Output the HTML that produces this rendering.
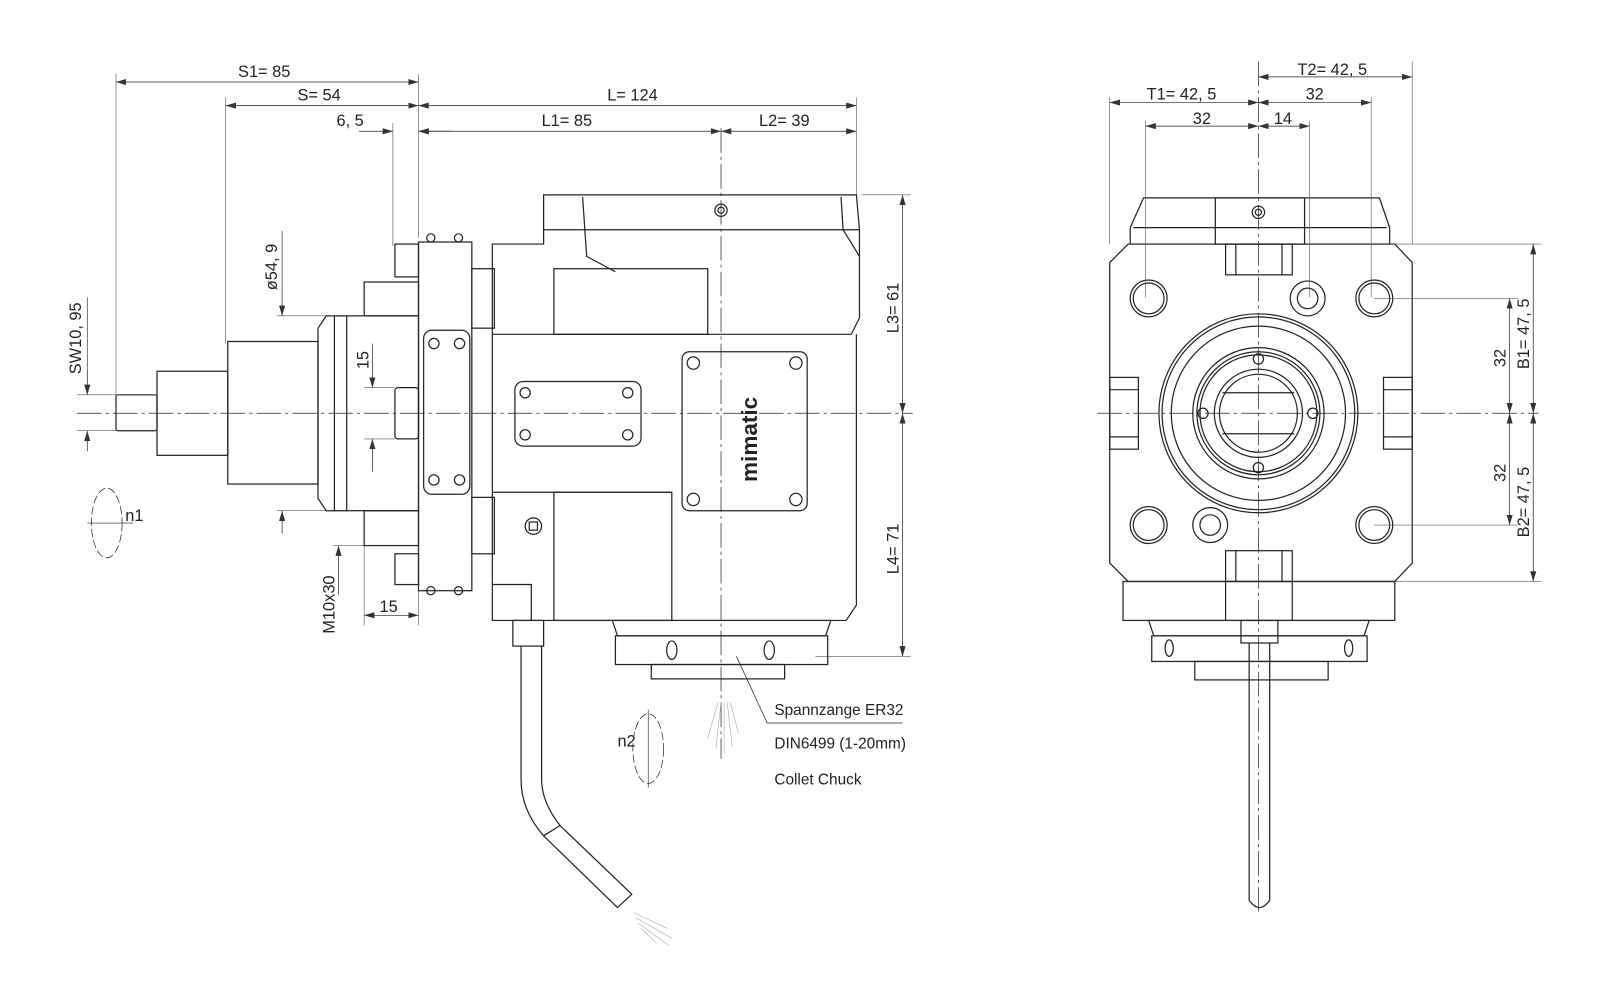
<!DOCTYPE html>
<html><head><meta charset="utf-8"><style>
html,body{margin:0;padding:0;background:#fff}
svg{display:block}
text{font-family:"Liberation Sans",sans-serif;font-size:16px;fill:#222}
</style></head><body>
<svg width="1600" height="1005" viewBox="0 0 1560 980" xmlns="http://www.w3.org/2000/svg">
<defs>
<marker id="a" viewBox="0 0 10 6" refX="10" refY="3" markerWidth="10" markerHeight="6" orient="auto-start-reverse" markerUnits="userSpaceOnUse"><path d="M0,0L10,3L0,6z" fill="#333"/></marker>
</defs>
<g stroke="#222" fill="none" stroke-width="0.8">
<!-- center lines -->
<g stroke-dasharray="24 4 3 4" stroke-width="0.7">
<line x1="75" y1="403" x2="890" y2="403"/>
<line x1="703" y1="125" x2="703" y2="740"/>
<line x1="1070" y1="403" x2="1500" y2="403"/>
<line x1="1227" y1="60" x2="1227" y2="890"/>
</g>
<!-- LEFT extension lines -->
<g stroke-width="0.6" stroke="#555">
<line x1="113" y1="72" x2="113" y2="385"/>
<line x1="220" y1="95" x2="220" y2="335"/>
<line x1="383" y1="120" x2="383" y2="240"/>
<line x1="408" y1="72" x2="408" y2="232"/>
<line x1="835" y1="95" x2="835" y2="190"/>
<line x1="840" y1="190" x2="888" y2="190"/>
<line x1="795" y1="640" x2="888" y2="640"/>
<line x1="75" y1="385" x2="113" y2="385"/><line x1="75" y1="420" x2="113" y2="420"/>
<line x1="270" y1="308" x2="330" y2="308"/><line x1="270" y1="498" x2="330" y2="498"/>
<line x1="355" y1="378" x2="385" y2="378"/><line x1="355" y1="428" x2="385" y2="428"/>
<line x1="355" y1="525" x2="355" y2="610"/><line x1="408" y1="575" x2="408" y2="610"/>
<line x1="325" y1="532" x2="355" y2="532"/>
</g>
<!-- LEFT dimension lines -->
<g stroke-width="0.7" marker-start="url(#a)" marker-end="url(#a)">
<line x1="113" y1="80" x2="408" y2="80"/>
<line x1="220" y1="103" x2="408" y2="103"/>
<line x1="408" y1="103" x2="835" y2="103"/>
<line x1="408" y1="128" x2="703" y2="128"/>
<line x1="703" y1="128" x2="835" y2="128"/>
<line x1="880" y1="190" x2="880" y2="403"/>
<line x1="880" y1="403" x2="880" y2="640"/>
<line x1="355" y1="600" x2="408" y2="600"/>
</g>
<g stroke-width="0.7" marker-end="url(#a)">
<line x1="350" y1="128" x2="383" y2="128"/>
<line x1="440" y1="128" x2="408" y2="128"/>
<line x1="85" y1="360" x2="85" y2="385"/><line x1="85" y1="440" x2="85" y2="420"/>
<line x1="275" y1="280" x2="275" y2="308"/><line x1="275" y1="520" x2="275" y2="498"/>
<line x1="363" y1="340" x2="363" y2="378"/><line x1="363" y1="460" x2="363" y2="428"/>
<line x1="330" y1="580" x2="330" y2="532"/>
</g>
<line x1="85" y1="290" x2="85" y2="360" stroke-width="0.6"/>
<line x1="275" y1="225" x2="275" y2="280" stroke-width="0.6"/>
<line x1="363" y1="335" x2="363" y2="340" stroke-width="0.6"/>
<!-- LEFT body -->
<g stroke-width="1.2">
<path d="M530,190 H835 L838,224 V310 L830,326 H480 V238 H530 Z"/>
<line x1="530" y1="224" x2="838" y2="224"/>
<path d="M568,192 L572,250 L600,265"/>
<path d="M820,192 L822,224 L838,250"/>
<rect x="540" y="262" width="150" height="64"/>
<path d="M480,326 V605 H825 L835,590 V326"/>
<line x1="480" y1="480" x2="655" y2="480"/>
<rect x="540" y="480" width="115" height="125"/>
<path d="M480,570 H518 V605"/>
<rect x="408" y="236" width="52" height="340"/>
<rect x="413" y="322" width="45" height="160" rx="8"/>
<circle cx="423" cy="335" r="5"/><circle cx="448" cy="335" r="5"/>
<circle cx="423" cy="468" r="5"/><circle cx="448" cy="468" r="5"/>
<circle cx="420" cy="232" r="4"/><circle cx="447" cy="232" r="4"/>
<circle cx="420" cy="576" r="4"/><circle cx="447" cy="576" r="4"/>
<rect x="460" y="262" width="22" height="58"/>
<rect x="460" y="485" width="22" height="55"/>
<rect x="385" y="238" width="23" height="32"/>
<rect x="385" y="540" width="23" height="30"/>
<rect x="355" y="275" width="53" height="33"/>
<rect x="355" y="498" width="53" height="34"/>
<rect x="338" y="308" width="70" height="190"/>
<path d="M338,308 H318 L310,320 V486 L318,498 H338"/>
<line x1="326" y1="308" x2="326" y2="498"/>
<rect x="222" y="333" width="88" height="139"/>
<rect x="153" y="362" width="69" height="82"/>
<rect x="113" y="385" width="40" height="35" rx="2"/>
<rect x="385" y="378" width="23" height="50" rx="3"/>
<rect x="502" y="372" width="123" height="63" rx="8"/>
<circle cx="512" cy="383" r="5"/><circle cx="612" cy="383" r="5"/>
<circle cx="512" cy="424" r="5"/><circle cx="612" cy="424" r="5"/>
<rect x="665" y="343" width="122" height="155" rx="7"/>
<circle cx="676" cy="354" r="6"/><circle cx="776" cy="354" r="6"/>
<circle cx="676" cy="487" r="6"/><circle cx="776" cy="487" r="6"/>
<circle cx="520" cy="513" r="8"/><rect x="516" y="509" width="8" height="8"/>
<circle cx="703" cy="205" r="6"/><circle cx="703" cy="205" r="3"/>
<rect x="500" y="605" width="30" height="25"/>
<path d="M597,605 H810 L805,620 H602 Z"/>
<rect x="600" y="620" width="207" height="28"/>
<ellipse cx="655" cy="634" rx="5" ry="9"/><ellipse cx="750" cy="634" rx="5" ry="9"/>
<path d="M635,648 H765 V662 H635 Z"/>
<path d="M508,630 V760 Q508,790 530,815 L602,885 L616,872 L546,805 Q528,782 528,760 V630"/>
<line x1="530" y1="815" x2="546" y2="805"/>
</g>
<!-- leader -->
<path d="M718,640 L748,705 H880" stroke-width="0.7"/>
<!-- n1 / n2 -->
<ellipse cx="104" cy="510" rx="15" ry="34" stroke-dasharray="8 3" stroke-width="0.7"/>
<line x1="85" y1="510" x2="130" y2="510" stroke-width="0.6"/>
<ellipse cx="632" cy="730" rx="15" ry="34" stroke-dasharray="8 3" stroke-width="0.7"/>
<line x1="632" y1="692" x2="632" y2="768" stroke-width="0.6"/>
<g stroke-width="0.5" stroke="#999">
<path d="M700,685 L690,720 M703,685 L698,730 M706,685 L706,735 M709,685 L714,728 M712,685 L720,715"/>
<path d="M618,890 L650,905 M620,895 L655,915 M622,900 L652,922 M625,905 L640,920"/>
</g>
<!-- RIGHT view -->
<g stroke-width="1.2">
<path d="M1115,193 H1345 L1355,222 V238 H1102 V222 Z"/>
<line x1="1105" y1="222" x2="1352" y2="222"/>
<rect x="1185" y="193" width="87" height="45"/>
<circle cx="1227" cy="207" r="6"/><circle cx="1227" cy="207" r="3"/>
<path d="M1100,238 H1360 L1377,256 V549 L1360,567 H1100 L1082,549 V256 Z"/>
<rect x="1195" y="238" width="65" height="30"/><line x1="1205" y1="238" x2="1205" y2="268"/><line x1="1250" y1="238" x2="1250" y2="268"/>
<rect x="1195" y="537" width="65" height="30"/><line x1="1205" y1="537" x2="1205" y2="567"/><line x1="1250" y1="537" x2="1250" y2="567"/>
<rect x="1082" y="368" width="28" height="70"/><line x1="1082" y1="380" x2="1110" y2="380"/><line x1="1082" y1="426" x2="1110" y2="426"/>
<rect x="1349" y="368" width="28" height="70"/><line x1="1349" y1="380" x2="1377" y2="380"/><line x1="1349" y1="426" x2="1377" y2="426"/>
<circle cx="1120" cy="291" r="18"/><circle cx="1120" cy="291" r="15"/>
<circle cx="1340" cy="291" r="18"/><circle cx="1340" cy="291" r="15"/>
<circle cx="1120" cy="512" r="18"/><circle cx="1120" cy="512" r="15"/>
<circle cx="1340" cy="512" r="18"/><circle cx="1340" cy="512" r="15"/>
<circle cx="1275" cy="291" r="17"/><circle cx="1275" cy="291" r="10"/>
<circle cx="1180" cy="512" r="17"/><circle cx="1180" cy="512" r="10"/>
<circle cx="1227" cy="403" r="97"/><circle cx="1227" cy="403" r="94"/>
<circle cx="1227" cy="403" r="85"/>
<circle cx="1227" cy="403" r="64"/><circle cx="1227" cy="403" r="60"/><circle cx="1227" cy="403" r="57"/>
<circle cx="1227" cy="403" r="43"/><circle cx="1227" cy="403" r="38"/>
<line x1="1192" y1="383" x2="1262" y2="383"/><line x1="1192" y1="423" x2="1262" y2="423"/>
<circle cx="1227" cy="350" r="5"/><circle cx="1227" cy="456" r="5"/>
<circle cx="1173" cy="403" r="5"/><circle cx="1280" cy="403" r="5"/>
<rect x="1095" y="567" width="265" height="38"/>
<line x1="1195" y1="567" x2="1195" y2="605"/><line x1="1260" y1="567" x2="1260" y2="605"/>
<path d="M1120,605 H1335 L1330,620 H1125 Z"/>
<rect x="1123" y="620" width="210" height="25"/>
<ellipse cx="1140" cy="632" rx="4" ry="8"/><ellipse cx="1315" cy="632" rx="4" ry="8"/>
<rect x="1165" y="645" width="130" height="18"/>
<rect x="1210" y="605" width="36" height="22"/>
<path d="M1218,627 V878 Q1228,892 1238,878 V627"/>
</g>
<!-- RIGHT ext lines -->
<g stroke-width="0.6" stroke="#555">
<line x1="1082" y1="95" x2="1082" y2="238"/>
<line x1="1117" y1="118" x2="1117" y2="290"/>
<line x1="1277" y1="118" x2="1277" y2="290"/>
<line x1="1337" y1="95" x2="1337" y2="290"/>
<line x1="1377" y1="60" x2="1377" y2="238"/>
<line x1="1360" y1="238" x2="1503" y2="238"/>
<line x1="1340" y1="291" x2="1480" y2="291"/>
<line x1="1340" y1="512" x2="1480" y2="512"/>
<line x1="1360" y1="567" x2="1503" y2="567"/>
</g>
<g stroke-width="0.7" marker-start="url(#a)" marker-end="url(#a)">
<line x1="1227" y1="75" x2="1377" y2="75"/>
<line x1="1082" y1="100" x2="1227" y2="100"/>
<line x1="1227" y1="100" x2="1337" y2="100"/>
<line x1="1117" y1="123" x2="1227" y2="123"/>
<line x1="1227" y1="123" x2="1277" y2="123"/>
<line x1="1495" y1="238" x2="1495" y2="403"/>
<line x1="1495" y1="403" x2="1495" y2="567"/>
<line x1="1472" y1="291" x2="1472" y2="403"/>
<line x1="1472" y1="403" x2="1472" y2="512"/>
</g>
</g>
<!-- texts -->
<text x="232" y="75">S1= 85</text>
<text x="290" y="98">S= 54</text>
<text x="592" y="98">L= 124</text>
<text x="328" y="123">6, 5</text>
<text x="528" y="123">L1= 85</text>
<text x="740" y="123">L2= 39</text>
<text x="122" y="508">n1</text>
<text x="602" y="728">n2</text>
<text x="370" y="597">15</text>
<text transform="translate(79,365) rotate(-90)">SW10, 95</text>
<text transform="translate(270,283) rotate(-90)">ø54, 9</text>
<text transform="translate(359,360) rotate(-90)">15</text>
<text transform="translate(326,618) rotate(-90)">M10x30</text>
<text transform="translate(876,325) rotate(-90)">L3= 61</text>
<text transform="translate(876,560) rotate(-90)">L4= 71</text>
<text transform="translate(738,470) rotate(-90)" style="font-weight:bold;font-size:22px">mimatic</text>
<text x="755" y="697" style="font-size:15px">Spannzange ER32</text>
<text x="755" y="730" style="font-size:15px">DIN6499 (1-20mm)</text>
<text x="755" y="765" style="font-size:15px">Collet Chuck</text>
<text x="1265" y="73">T2= 42, 5</text>
<text x="1118" y="97">T1= 42, 5</text>
<text x="1273" y="97">32</text>
<text x="1163" y="121">32</text>
<text x="1242" y="121">14</text>
<text transform="translate(1491,360) rotate(-90)">B1= 47, 5</text>
<text transform="translate(1491,524) rotate(-90)">B2= 47, 5</text>
<text transform="translate(1468,358) rotate(-90)">32</text>
<text transform="translate(1468,470) rotate(-90)">32</text>
</svg>
</body></html>
